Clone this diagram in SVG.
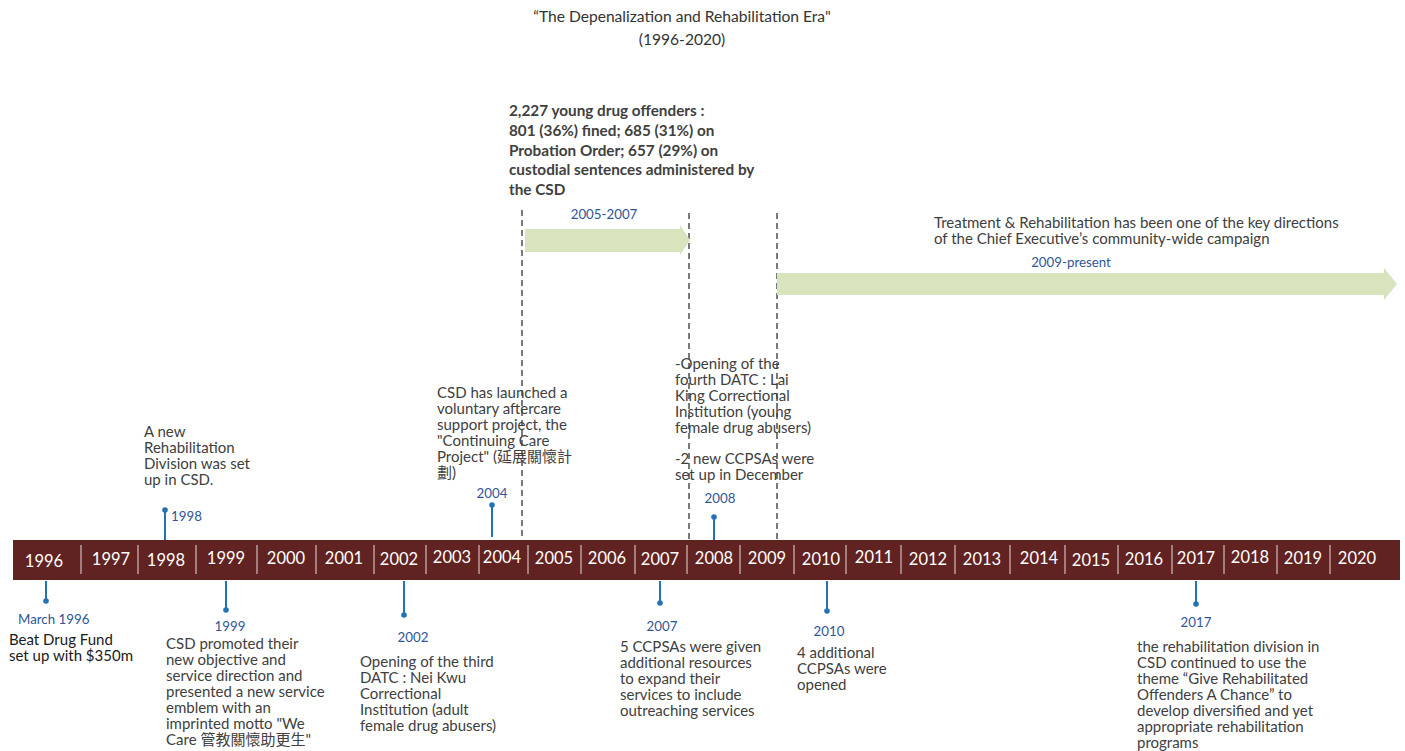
<svg xmlns="http://www.w3.org/2000/svg" width="1405" height="751" viewBox="0 0 1405 751">
<defs>
<style>
text{font-family:Lato,"Noto Sans CJK TC",sans-serif;}
.t{font-size:15px;fill:#404040;}
.k{font-size:15px;fill:#1a1a1a;}
.b{font-size:15.3px;fill:#404040;font-weight:bold;}
.y{font-size:13.3px;fill:#2f5597;}
.yr{font-size:16.5px;fill:#ffffff;text-anchor:middle;}
.ttl{font-size:15.6px;fill:#333333;text-anchor:middle;}
.sep{stroke:#e8d8d8;stroke-width:1;}
.stem{stroke:#2372b5;stroke-width:2;}
.dot{fill:#2372b5;}
.dash{stroke:#222222;stroke-width:1.2;stroke-dasharray:6,4;fill:none;}
.arr{fill:#d7e4bd;}
</style>
</defs>
<rect width="1405" height="751" fill="#ffffff"/>
<g id="title">
<text class="ttl" x="682" y="22">“The Depenalization and Rehabilitation Era"</text>
<text class="ttl" x="682" y="45">(1996-2020)</text>
</g>
<g id="timeline">
<rect x="13" y="540" width="1387" height="40" fill="#612322"/>
<g>
<line class="sep" x1="81" y1="545" x2="81" y2="574"/>
<line class="sep" x1="138" y1="545" x2="138" y2="574"/>
<line class="sep" x1="196" y1="545" x2="196" y2="574"/>
<line class="sep" x1="257" y1="545" x2="257" y2="574"/>
<line class="sep" x1="316" y1="545" x2="316" y2="574"/>
<line class="sep" x1="374" y1="545" x2="374" y2="574"/>
<line class="sep" x1="426" y1="545" x2="426" y2="574"/>
<line class="sep" x1="479" y1="545" x2="479" y2="574"/>
<line class="sep" x1="528" y1="545" x2="528" y2="574"/>
<line class="sep" x1="581" y1="545" x2="581" y2="574"/>
<line class="sep" x1="635" y1="545" x2="635" y2="574"/>
<line class="sep" x1="687" y1="545" x2="687" y2="574"/>
<line class="sep" x1="740" y1="545" x2="740" y2="574"/>
<line class="sep" x1="794" y1="545" x2="794" y2="574"/>
<line class="sep" x1="846" y1="545" x2="846" y2="574"/>
<line class="sep" x1="901" y1="545" x2="901" y2="574"/>
<line class="sep" x1="955" y1="545" x2="955" y2="574"/>
<line class="sep" x1="1010" y1="545" x2="1010" y2="574"/>
<line class="sep" x1="1065" y1="545" x2="1065" y2="574"/>
<line class="sep" x1="1118" y1="545" x2="1118" y2="574"/>
<line class="sep" x1="1172" y1="545" x2="1172" y2="574"/>
<line class="sep" x1="1224" y1="545" x2="1224" y2="574"/>
<line class="sep" x1="1277" y1="545" x2="1277" y2="574"/>
<line class="sep" x1="1330" y1="545" x2="1330" y2="574"/>
</g>
<text class="yr" x="44" y="567">1996</text>
<text class="yr" x="111" y="565">1997</text>
<text class="yr" x="166" y="566">1998</text>
<text class="yr" x="226" y="564">1999</text>
<text class="yr" x="286" y="564">2000</text>
<text class="yr" x="344" y="564">2001</text>
<text class="yr" x="399" y="565">2002</text>
<text class="yr" x="452" y="563">2003</text>
<text class="yr" x="502" y="563">2004</text>
<text class="yr" x="554" y="564">2005</text>
<text class="yr" x="607" y="564">2006</text>
<text class="yr" x="660" y="565">2007</text>
<text class="yr" x="714" y="564">2008</text>
<text class="yr" x="767" y="564">2009</text>
<text class="yr" x="821" y="565">2010</text>
<text class="yr" x="874" y="563">2011</text>
<text class="yr" x="928" y="565">2012</text>
<text class="yr" x="982" y="565">2013</text>
<text class="yr" x="1039" y="564">2014</text>
<text class="yr" x="1091" y="566">2015</text>
<text class="yr" x="1144" y="565">2016</text>
<text class="yr" x="1196" y="564">2017</text>
<text class="yr" x="1250" y="563">2018</text>
<text class="yr" x="1303" y="564">2019</text>
<text class="yr" x="1357" y="564">2020</text>
</g>
<g id="connectors">
<line class="dash" x1="522" y1="210" x2="522" y2="538"/>
<line class="dash" x1="689" y1="213" x2="689" y2="540"/>
<line class="dash" x1="777" y1="213" x2="777" y2="540"/>
<polygon class="arr" points="525,229 680,229 680,225 690,240 680,255 680,252 525,252"/>
<polygon class="arr" points="777,273 1384,273 1384,268 1397,284 1384,300 1384,295 777,295"/>
<line class="stem" x1="165" y1="510" x2="165" y2="540"/>
<circle class="dot" cx="165" cy="510" r="2.8"/>
<line class="stem" x1="492" y1="505" x2="492" y2="537"/>
<circle class="dot" cx="492" cy="505" r="2.8"/>
<line class="stem" x1="714" y1="517" x2="714" y2="540"/>
<circle class="dot" cx="714" cy="517" r="2.8"/>
<line class="stem" x1="46" y1="581" x2="46" y2="601"/>
<circle class="dot" cx="46" cy="601" r="2.8"/>
<line class="stem" x1="226" y1="581" x2="226" y2="610"/>
<circle class="dot" cx="226" cy="610" r="2.8"/>
<line class="stem" x1="404" y1="581" x2="404" y2="615"/>
<circle class="dot" cx="404" cy="615" r="2.8"/>
<line class="stem" x1="660" y1="581" x2="660" y2="603"/>
<circle class="dot" cx="660" cy="603" r="2.8"/>
<line class="stem" x1="827" y1="581" x2="827" y2="611"/>
<circle class="dot" cx="827" cy="611" r="2.8"/>
<line class="stem" x1="1196" y1="581" x2="1196" y2="604"/>
<circle class="dot" cx="1196" cy="604" r="2.8"/>
</g>
<g id="stats">
<text class="b" x="509" y="116">2,227 young drug offenders :</text>
<text class="b" x="509" y="136">801 (36%) fined; 685 (31%) on</text>
<text class="b" x="509" y="156">Probation Order; 657 (29%) on</text>
<text class="b" x="509" y="175">custodial sentences administered by</text>
<text class="b" x="509" y="195">the CSD</text>
</g>
<g id="period-2005">
<text class="y" x="604" y="219" text-anchor="middle">2005-2007</text>
</g>
<g id="period-2009">
<text class="t" x="934" y="228">Treatment &amp; Rehabilitation has been one of the key directions</text>
<text class="t" x="934" y="244">of the Chief Executive’s community-wide campaign</text>
<text class="y" x="1071" y="267" text-anchor="middle">2009-present</text>
</g>
<g id="event-1998">
<text class="t" x="144" y="437">A new</text>
<text class="t" x="144" y="453">Rehabilitation</text>
<text class="t" x="144" y="469">Division was set</text>
<text class="t" x="144" y="485">up in CSD.</text>
<text class="y" x="171" y="521">1998</text>
</g>
<g id="event-2004">
<text class="t" x="437" y="398">CSD has launched a</text>
<text class="t" x="437" y="414">voluntary aftercare</text>
<text class="t" x="437" y="430">support project, the</text>
<text class="t" x="437" y="446">"Continuing Care</text>
<text class="t" x="437" y="462">Project" (延展關懷計</text>
<text class="t" x="437" y="478">劃)</text>
<text class="y" x="492" y="498" text-anchor="middle">2004</text>
</g>
<g id="event-2008">
<text class="t" x="675" y="369">-Opening of the</text>
<text class="t" x="675" y="385">fourth DATC : Lai</text>
<text class="t" x="675" y="401">King Correctional</text>
<text class="t" x="675" y="417">Institution (young</text>
<text class="t" x="675" y="433">female drug abusers)</text>
<text class="t" x="675" y="464">-2 new CCPSAs were</text>
<text class="t" x="675" y="480">set up in December</text>
<text class="y" x="720" y="503" text-anchor="middle">2008</text>
</g>
<g id="event-1996">
<text class="y" x="18" y="624">March 1996</text>
<text class="k" x="9" y="645">Beat Drug Fund</text>
<text class="k" x="9" y="661">set up with $350m</text>
</g>
<g id="event-1999">
<text class="y" x="230" y="631" text-anchor="middle">1999</text>
<text class="t" x="166" y="649">CSD promoted their</text>
<text class="t" x="166" y="665">new objective and</text>
<text class="t" x="166" y="681">service direction and</text>
<text class="t" x="166" y="697">presented a new service</text>
<text class="t" x="166" y="713">emblem with an</text>
<text class="t" x="166" y="729">imprinted motto "We</text>
<text class="t" x="166" y="745">Care 管教關懷助更生"</text>
</g>
<g id="event-2002">
<text class="y" x="413" y="642" text-anchor="middle">2002</text>
<text class="t" x="360" y="667">Opening of the third</text>
<text class="t" x="360" y="683">DATC : Nei Kwu</text>
<text class="t" x="360" y="699">Correctional</text>
<text class="t" x="360" y="715">Institution (adult</text>
<text class="t" x="360" y="731">female drug abusers)</text>
</g>
<g id="event-2007">
<text class="y" x="662" y="631" text-anchor="middle">2007</text>
<text class="t" x="620" y="652">5 CCPSAs were given</text>
<text class="t" x="620" y="668">additional resources</text>
<text class="t" x="620" y="684">to expand their</text>
<text class="t" x="620" y="700">services to include</text>
<text class="t" x="620" y="716">outreaching services</text>
</g>
<g id="event-2010">
<text class="y" x="829" y="636" text-anchor="middle">2010</text>
<text class="t" x="797" y="658">4 additional</text>
<text class="t" x="797" y="674">CCPSAs were</text>
<text class="t" x="797" y="690">opened</text>
</g>
<g id="event-2017">
<text class="y" x="1196" y="627" text-anchor="middle">2017</text>
<text class="t" x="1137" y="652">the rehabilitation division in</text>
<text class="t" x="1137" y="668">CSD continued to use the</text>
<text class="t" x="1137" y="684">theme “Give Rehabilitated</text>
<text class="t" x="1137" y="700">Offenders A Chance” to</text>
<text class="t" x="1137" y="716">develop diversified and yet</text>
<text class="t" x="1137" y="732">appropriate rehabilitation</text>
<text class="t" x="1137" y="748">programs</text>
</g>
</svg>
